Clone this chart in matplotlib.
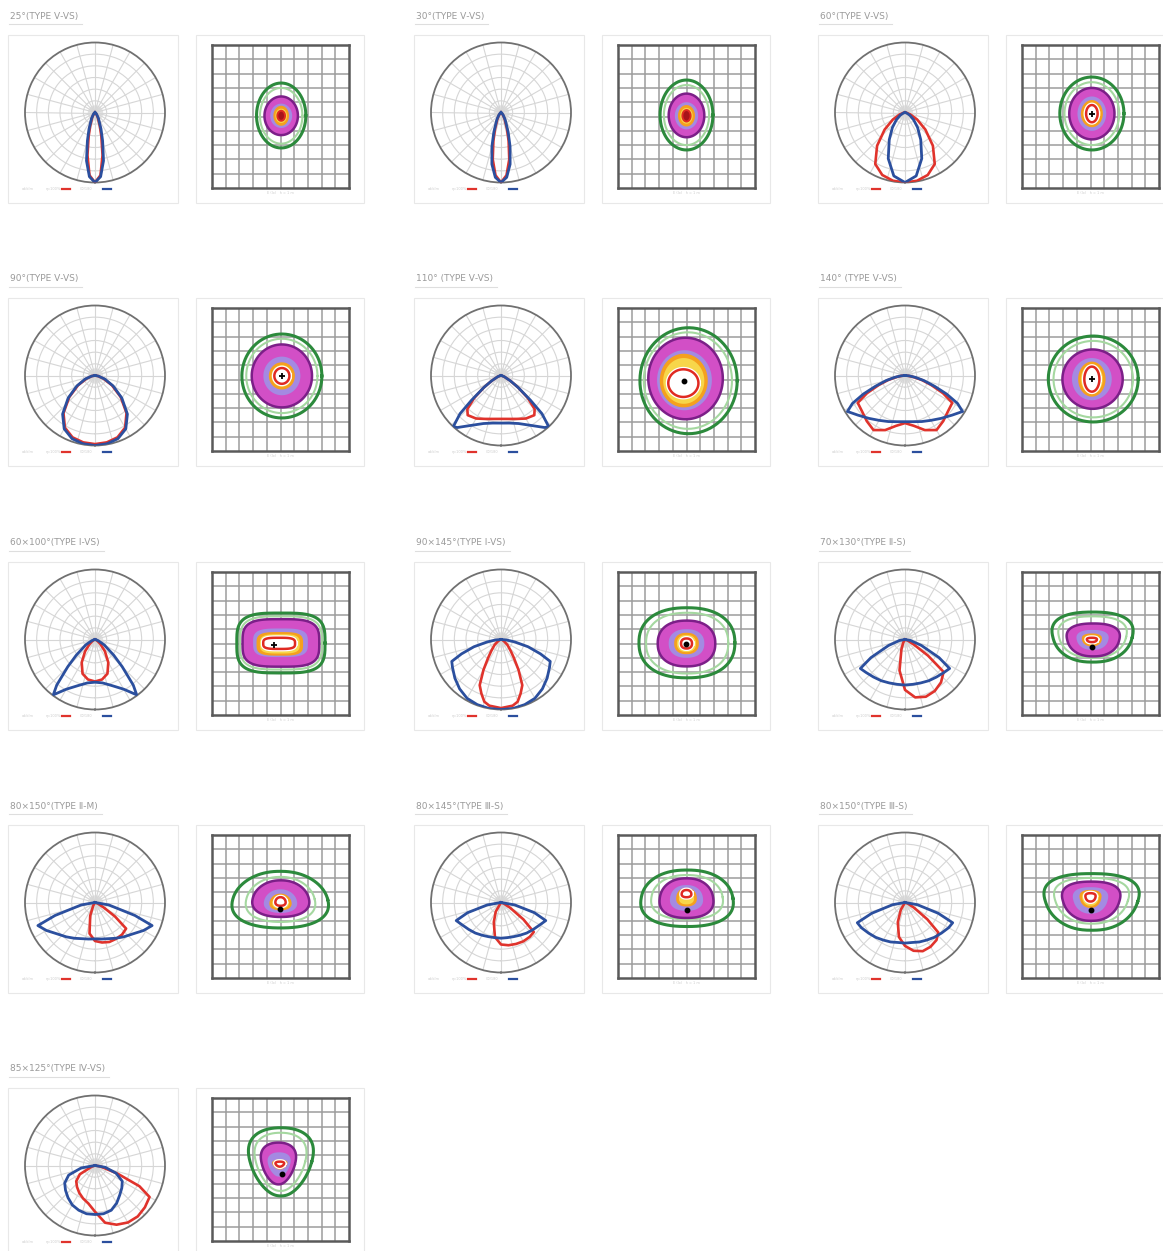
import numpy as np
import matplotlib
matplotlib.use("Agg")
import matplotlib.pyplot as plt
from matplotlib.patches import Rectangle, Polygon
from matplotlib.lines import Line2D

plt.rcParams['font.family'] = ['DejaVu Sans', 'Noto Sans CJK SC']

W, H = 1163, 1251

TITLES = ["25°(TYPE Ⅴ-VS)", "30°(TYPE Ⅴ-VS)", "60°(TYPE Ⅴ-VS)",
          "90°(TYPE Ⅴ-VS)", "110° (TYPE Ⅴ-VS)", "140° (TYPE Ⅴ-VS)",
          "60×100°(TYPE Ⅰ-VS)", "90×145°(TYPE Ⅰ-VS)", "70×130°(TYPE Ⅱ-S)",
          "80×150°(TYPE Ⅱ-M)", "80×145°(TYPE Ⅲ-S)", "80×150°(TYPE Ⅲ-S)",
          "85×125°(TYPE Ⅳ-VS)"]

# polar curves: gamma (deg, 0 = nadir, + = right), relative intensity
# lists that start at 0 are one half of a symmetric curve
RED = [
    ([0, 5, 10, 15, 20, 30, 40, 90], [1.0, 0.9, 0.62, 0.35, 0.2, 0.08, 0.03, 0]),
    ([0, 5, 10, 15, 20, 30, 40, 90], [1.0, 0.9, 0.68, 0.42, 0.25, 0.1, 0.04, 0]),
    ([0, 10, 20, 30, 40, 50, 60, 70, 80, 90], [1.0, 0.99, 0.95, 0.85, 0.62, 0.38, 0.2, 0.08, 0.02, 0]),
    ([0, 10, 20, 30, 40, 50, 60, 70, 80, 90], [0.98, 0.97, 0.94, 0.86, 0.7, 0.48, 0.28, 0.13, 0.04, 0]),
    ([0, 10, 20, 30, 40, 45, 50, 55, 60, 70, 90], [0.62, 0.63, 0.66, 0.71, 0.74, 0.68, 0.5, 0.3, 0.16, 0.05, 0]),
    ([0, 10, 20, 30, 40, 50, 60, 65, 70, 75, 80, 85, 90], [0.68, 0.73, 0.83, 0.9, 0.85, 0.8, 0.78, 0.6, 0.4, 0.25, 0.12, 0.04, 0]),
    ([0, 10, 20, 30, 40, 50, 60, 70, 90], [0.6, 0.58, 0.52, 0.38, 0.22, 0.1, 0.04, 0.01, 0]),
    ([0, 10, 15, 20, 25, 30, 35, 40, 50, 60, 70, 90], [0.98, 0.96, 0.92, 0.82, 0.72, 0.5, 0.32, 0.22, 0.12, 0.05, 0.02, 0]),
    ([-90, -30, -20, -10, 0, 10, 20, 30, 40, 50, 55, 60, 70, 90],
     [0, 0.05, 0.15, 0.45, 0.72, 0.84, 0.87, 0.85, 0.8, 0.72, 0.4, 0.15, 0.04, 0]),
    ([-90, -30, -20, -10, 0, 10, 20, 30, 40, 50, 55, 60, 70, 90],
     [0, 0.05, 0.2, 0.45, 0.55, 0.58, 0.6, 0.6, 0.6, 0.58, 0.35, 0.15, 0.04, 0]),
    ([-90, -30, -20, -10, 0, 10, 20, 30, 40, 48, 53, 60, 70, 90],
     [0, 0.15, 0.3, 0.5, 0.6, 0.62, 0.63, 0.64, 0.64, 0.63, 0.4, 0.15, 0.04, 0]),
    ([-90, -30, -20, -10, 0, 10, 20, 30, 40, 48, 53, 60, 70, 90],
     [0, 0.12, 0.3, 0.5, 0.62, 0.7, 0.74, 0.73, 0.7, 0.64, 0.4, 0.15, 0.04, 0]),
    ([-90, -70, -60, -50, -40, -30, -20, -10, 0, 10, 20, 30, 40, 50, 60, 65, 70, 80, 90],
     [0, 0.05, 0.25, 0.35, 0.4, 0.45, 0.5, 0.55, 0.66, 0.83, 0.9, 0.94, 0.95, 0.93, 0.9, 0.7, 0.35, 0.08, 0]),
]
BLUE = [
    ([0, 5, 10, 15, 20, 30, 40, 50, 90], [1.0, 0.92, 0.7, 0.42, 0.25, 0.1, 0.04, 0.02, 0]),
    ([0, 5, 10, 15, 20, 30, 40, 50, 90], [1.0, 0.93, 0.75, 0.5, 0.3, 0.12, 0.05, 0.02, 0]),
    ([0, 10, 20, 30, 40, 50, 60, 70, 90], [1.0, 0.92, 0.7, 0.45, 0.28, 0.16, 0.08, 0.03, 0]),
    ([0, 10, 20, 30, 40, 50, 60, 70, 80, 90], [1.0, 0.99, 0.96, 0.88, 0.72, 0.5, 0.3, 0.15, 0.05, 0]),
    ([0, 10, 20, 30, 40, 43, 47, 50, 55, 60, 70, 80, 90], [0.68, 0.69, 0.73, 0.82, 0.97, 1.0, 0.8, 0.55, 0.3, 0.16, 0.05, 0.01, 0]),
    ([0, 10, 20, 30, 40, 50, 58, 62, 66, 70, 75, 80, 85, 90], [0.66, 0.67, 0.7, 0.74, 0.8, 0.88, 0.97, 0.85, 0.65, 0.45, 0.28, 0.15, 0.06, 0]),
    ([0, 10, 20, 30, 37, 40, 45, 50, 60, 70, 80, 90], [0.61, 0.63, 0.7, 0.82, 0.99, 0.85, 0.55, 0.35, 0.15, 0.05, 0.01, 0]),
    ([0, 10, 20, 30, 40, 50, 60, 66, 70, 75, 80, 85, 90], [1.0, 1.0, 0.99, 0.97, 0.92, 0.86, 0.8, 0.77, 0.6, 0.4, 0.2, 0.08, 0]),
    ([0, 10, 20, 30, 40, 50, 57, 62, 70, 80, 90], [0.65, 0.65, 0.66, 0.68, 0.7, 0.73, 0.76, 0.55, 0.25, 0.08, 0]),
    ([0, 10, 20, 30, 40, 50, 60, 68, 72, 80, 90], [0.52, 0.53, 0.55, 0.59, 0.64, 0.7, 0.8, 0.88, 0.6, 0.2, 0]),
    ([0, 10, 20, 30, 40, 50, 60, 68, 73, 80, 90], [0.51, 0.51, 0.52, 0.54, 0.57, 0.6, 0.64, 0.69, 0.5, 0.2, 0]),
    ([0, 10, 20, 30, 40, 50, 60, 67, 72, 80, 90], [0.58, 0.58, 0.6, 0.62, 0.65, 0.68, 0.72, 0.74, 0.5, 0.18, 0]),
    ([-90, -80, -70, -60, -50, -40, -30, -20, -10, 0, 10, 20, 30, 40, 50, 60, 70, 80, 90],
     [0, 0.2, 0.4, 0.5, 0.55, 0.6, 0.65, 0.68, 0.7, 0.7, 0.7, 0.68, 0.62, 0.55, 0.5, 0.45, 0.32, 0.15, 0]),
]

# isolux rings in grid cells: (centre x, half width, top row, bottom row)
RING_GREEN = [(5.05, 1.8, 2.66, 7.2), (5.0, 1.93, 2.45, 7.34), (5.1, 2.34, 2.24, 7.34),
              (5.1, 2.92, 1.82, 7.69), (5.15, 3.55, 1.38, 8.79), (5.2, 3.28, 1.96, 7.97),
              (5.03, 3.22, 2.87, 7.06), (5.03, 3.5, 2.5, 7.4), (5.15, 2.9, 2.8, 6.3),
              (4.98, 3.47, 2.54, 6.5), (5.04, 3.35, 2.45, 6.4), (5.08, 3.36, 2.7, 6.66),
              (5.03, 2.25, 2.08, 6.85)]
RING_LGREEN = [(5.05, 1.55, 3.0, 6.9), (5.0, 1.65, 2.8, 7.0), (5.1, 2.0, 2.6, 7.0),
               (5.1, 2.6, 2.15, 7.35), (5.1, 3.22, 1.7, 8.45), (5.2, 2.9, 2.3, 7.65),
               (5.03, 2.98, 3.1, 6.82), (5.05, 3.0, 2.85, 7.1), (5.15, 2.45, 3.1, 6.0),
               (5.0, 2.5, 2.93, 6.08), (5.04, 2.6, 2.8, 5.9), (5.08, 2.65, 3.0, 6.2),
               (5.0, 1.8, 2.43, 6.5)]
RING_PURPLE = [(5.05, 1.22, 3.6, 6.3), (5.0, 1.3, 3.4, 6.45), (5.1, 1.65, 3.0, 6.6),
               (5.1, 2.2, 2.55, 6.95), (4.93, 2.72, 2.08, 7.78), (5.15, 2.2, 2.9, 7.05),
               (5.03, 2.8, 3.3, 6.62), (5.0, 2.1, 3.4, 6.6), (5.2, 1.9, 3.6, 5.9),
               (5.02, 2.05, 3.17, 5.73), (5.0, 1.95, 3.03, 5.8), (5.05, 2.06, 3.26, 6.0),
               (4.85, 1.22, 3.12, 6.04)]
RING_LAVENDER = [(5.05, 0.8, 4.1, 5.8), (5.0, 0.85, 4.0, 5.9), (5.1, 1.05, 3.6, 6.0),
                 (5.1, 1.35, 3.4, 6.1), (4.85, 2.0, 2.95, 7.15), (5.1, 1.45, 3.5, 6.45),
                 (5.0, 2.0, 3.95, 5.95), (5.0, 1.3, 4.0, 6.0), (5.15, 1.15, 4.05, 5.45),
                 (5.0, 1.2, 3.8, 5.45), (5.0, 1.2, 3.5, 5.3), (5.0, 1.25, 3.65, 5.5),
                 (4.9, 0.8, 3.8, 5.5)]
RING_ORANGE = [(5.05, 0.57, 4.25, 5.65), (5.0, 0.62, 4.2, 5.7), (5.1, 0.8, 3.85, 5.75),
               (5.1, 0.95, 3.8, 5.7), (4.8, 1.75, 3.2, 6.95), (5.1, 1.0, 3.75, 6.2),
               (4.95, 1.7, 4.2, 5.85), (5.0, 0.9, 4.25, 5.75), (5.1, 0.72, 4.3, 5.2),
               (5.0, 0.8, 4.1, 5.27), (5.0, 0.75, 3.7, 5.0), (5.0, 0.78, 3.84, 5.1),
               (4.95, 0.53, 4.3, 5.0)]
RING_YELLOW = [(5.05, 0.42, 4.45, 5.45), (5.0, 0.45, 4.4, 5.5), (5.1, 0.62, 4.05, 5.55),
               (5.1, 0.75, 4.0, 5.5), (4.8, 1.5, 3.5, 6.7), (5.1, 0.8, 3.95, 6.0),
               (4.95, 1.45, 4.35, 5.7), (5.0, 0.7, 4.4, 5.6), (5.1, 0.55, 4.45, 5.05),
               (5.0, 0.6, 4.25, 5.15), (5.0, 0.55, 3.85, 4.85), (5.0, 0.6, 3.95, 4.95),
               (4.95, 0.42, 4.4, 4.9)]
RING_RED = [(5.05, 0.28, 4.6, 5.3), (5.0, 0.3, 4.55, 5.35), (5.1, 0.42, 4.2, 5.4),
            (5.1, 0.55, 4.2, 5.3), (4.77, 1.1, 4.29, 6.22), (5.1, 0.55, 4.1, 5.85),
            (4.9, 1.16, 4.6, 5.38), (5.0, 0.4, 4.65, 5.35), (5.1, 0.36, 4.6, 4.9),
            (5.0, 0.37, 4.35, 4.95), (5.0, 0.35, 3.85, 4.35), (5.0, 0.36, 4.07, 4.65),
            (4.95, 0.3, 4.45, 4.8)]
# luminaire position marker (x, row, kind)
MARK = [None, None, (5.1, 4.8, '+'), (5.1, 4.75, '+'), (4.8, 5.1, 'o'), (5.1, 4.97, '+'),
        (4.5, 5.1, '+'), (4.95, 5.0, 'o'), (5.1, 5.24, 'o'), (4.98, 5.2, 'o'),
        (5.0, 5.27, 'o'), (5.0, 5.27, 'o'), (5.08, 5.3, 'o')]
SHAPE_N = [2, 2, 2, 2, 2, 2, 3.5, 2.3, 2.4, 2.2, 2.3, 2.4, 2.2]
TAPER = [0, 0, 0, 0, 0, 0, 0, 0, 0.15, -0.15, -0.1, 0.2, 0.3]
DARK_CORE = [True, True] + [False] * 11

GX = [8, 414, 818]
GY = [35, 298, 562, 825, 1088]

fig = plt.figure(figsize=(W / 100, H / 100), dpi=100)


def frect(x, y, w, h):
    return [x / W, 1 - (y + h) / H, w / W, h / H]


def full_curve(g, r):
    g = np.asarray(g, float)
    r = np.asarray(r, float)
    if g.min() >= 0:
        g = np.concatenate([-g[::-1], g[1:]])
        r = np.concatenate([r[::-1], r[1:]])
    return np.radians(g), r


def ring_xy(ring, n, taper):
    cx, rx, top, bot = ring
    t = np.linspace(0, 2 * np.pi, 240)
    c, s = np.cos(t), np.sin(t)
    u = np.sign(c) * np.abs(c) ** (2 / n)
    v = np.sign(s) * np.abs(s) ** (2 / n)
    cy = (top + bot) / 2
    ry = (bot - top) / 2
    return cx + rx * u * (1 - taper * v), cy + ry * v


def box(x, y, w, h):
    fig.add_artist(Rectangle((x / W, 1 - (y + h) / H), w / W, h / H,
                             transform=fig.transFigure, fill=False,
                             edgecolor='#e8e8e8', lw=0.8))


title_texts = []
for i, title in enumerate(TITLES):
    gx, gy = GX[i % 3], GY[i // 3]

    t = fig.text((gx + 2) / W, 1 - (gy - 19) / H, title, fontsize=6.5,
                 color='#9a9a9a', va='center', ha='left')
    title_texts.append((t, gx, gy))

    # polar diagram
    box(gx, gy, 170, 168)
    ax = fig.add_axes(frect(gx + 17, gy + 7.5, 140, 140), projection='polar')
    ax.set_theta_zero_location('S')
    ax.set_theta_direction(1)
    ax.set_ylim(0, 1)
    ax.set_rgrids(np.arange(1, 6) / 6, labels=[])
    ax.set_thetagrids(np.arange(0, 360, 15), labels=[])
    ax.grid(color='#d6d6d6', lw=0.8)
    ax.spines['polar'].set_color('#707070')
    ax.spines['polar'].set_linewidth(1.3)
    ax.tick_params(pad=0)
    ax.fill_between(np.linspace(0, 2 * np.pi, 90), 0, 0.11, color='#e2e2e2', lw=0, zorder=1)
    th, rr = full_curve(*RED[i])
    ax.plot(th, rr, color='#e0332c', lw=1.9, zorder=3)
    th, rr = full_curve(*BLUE[i])
    ax.plot(th, rr, color='#2b4f9e', lw=2.0, zorder=4)

    # legend row under the polar diagram
    ly = 1 - (gy + 154) / H
    fig.text((gx + 14) / W, ly, 'cd/klm', fontsize=2.5, color='#cccccc', va='center')
    fig.text((gx + 38) / W, ly, 'η=100%', fontsize=2.5, color='#cccccc', va='center')
    fig.text((gx + 72) / W, ly, 'C0/180', fontsize=2.5, color='#cccccc', va='center')
    fig.add_artist(Line2D([(gx + 54) / W, (gx + 62) / W], [ly, ly], color='#e0332c',
                          lw=1.6, transform=fig.transFigure))
    fig.add_artist(Line2D([(gx + 95) / W, (gx + 103) / W], [ly, ly], color='#2b4f9e',
                          lw=1.6, transform=fig.transFigure))

    # isolux diagram
    box(gx + 188, gy, 168, 168)
    cax = fig.add_axes(frect(gx + 204, gy + 10, 137, 143))
    cax.set_xlim(0, 10)
    cax.set_ylim(10, 0)
    for k in range(1, 10):
        cax.axvline(k, color='#9c9c9c', lw=1.1, zorder=0)
        cax.axhline(k, color='#9c9c9c', lw=1.1, zorder=0)
    cax.set_xticks([])
    cax.set_yticks([])
    for sp in cax.spines.values():
        sp.set_color('#5a5a5a')
        sp.set_linewidth(1.8)

    n, tp = SHAPE_N[i], TAPER[i]
    x, y = ring_xy(RING_GREEN[i], n, tp)
    cax.plot(x, y, color='#2c8a3c', lw=2.2, zorder=2)
    x, y = ring_xy(RING_LGREEN[i], n, tp)
    cax.plot(x, y, color='#a5d8a0', lw=1.5, zorder=2)
    x, y = ring_xy(RING_PURPLE[i], n, tp)
    cax.add_patch(Polygon(np.c_[x, y], facecolor='#d24fc6', edgecolor='#7c1f88',
                          lw=1.8, zorder=3))
    x, y = ring_xy(RING_LAVENDER[i], n, tp)
    cax.add_patch(Polygon(np.c_[x, y], facecolor='#a48ae2', edgecolor='none', zorder=4))
    x, y = ring_xy(RING_ORANGE[i], n, tp)
    cax.add_patch(Polygon(np.c_[x, y], facecolor='#f5a01e', edgecolor='none', zorder=5))
    x, y = ring_xy(RING_YELLOW[i], n, tp)
    cax.add_patch(Polygon(np.c_[x, y], facecolor='#f7d64a', edgecolor='none', zorder=6))
    x, y = ring_xy(RING_RED[i], n, tp)
    if DARK_CORE[i]:
        cax.add_patch(Polygon(np.c_[x, y], facecolor='#a8141a', edgecolor='#e02a22',
                              lw=1.4, zorder=7))
    else:
        cax.plot(x, y, color='white', lw=3.6, zorder=7)
        cax.add_patch(Polygon(np.c_[x, y], facecolor='white', edgecolor='#e02a22',
                              lw=1.8, zorder=8))
    if MARK[i] is not None:
        mx, my, kind = MARK[i]
        if kind == '+':
            cax.plot(mx, my, marker='+', color='black', ms=5, mew=1.3, zorder=9)
        else:
            cax.plot(mx, my, marker='o', color='black', ms=3.2, zorder=9)

    fig.text((gx + 188 + 84) / W, 1 - (gy + 158) / H, 'E (lx)   h = 1 m', fontsize=2.5,
             color='#cccccc', ha='center', va='center')

# underline each title
fig.canvas.draw()
for t, gx, gy in title_texts:
    bb = t.get_window_extent()
    x1 = (bb.x1 + 4) / W
    yl = 1 - (gy - 11) / H
    fig.add_artist(Line2D([(gx + 1) / W, x1], [yl, yl], color='#dedede', lw=0.8,
                          transform=fig.transFigure))

fig.savefig('out.png', dpi=100, facecolor='white')
